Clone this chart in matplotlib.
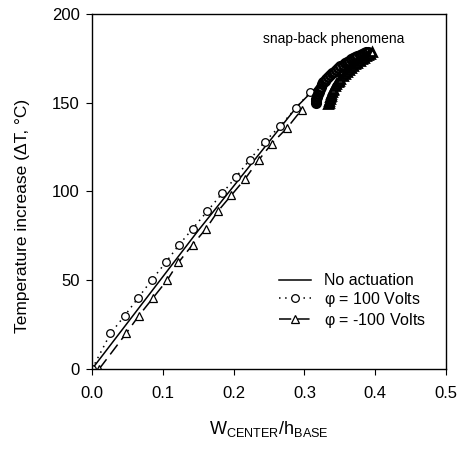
import matplotlib.pyplot as plt

plt.rcParams['font.family'] = ['Liberation Sans', 'DejaVu Sans']

# no actuation (solid line, no markers)
x_none = [0.0, 0.05, 0.10, 0.15, 0.20, 0.25, 0.29, 0.31, 0.325, 0.34, 0.36, 0.38, 0.393]
t_none = [0, 26, 52, 78, 103, 128, 148, 156, 162, 167, 172.5, 176.5, 178.5]

# phi = 100 V (circles, dotted)
x_pos = [0.0, 0.026, 0.046, 0.065, 0.084, 0.104, 0.123, 0.142, 0.163, 0.184,
         0.203, 0.223, 0.244, 0.266, 0.288, 0.308]
t_pos = [0, 20, 30, 40, 50, 60, 70, 79, 89, 99, 108, 118, 128, 137, 147, 156]
# snap-back branch phi = 100 V
x_pos_sb = [0.316, 0.3165, 0.317, 0.3175, 0.318, 0.319, 0.320, 0.321, 0.322, 0.323,
            0.325, 0.327, 0.329, 0.331, 0.333, 0.336, 0.339, 0.342, 0.345, 0.348,
            0.351, 0.354, 0.357, 0.360, 0.363, 0.366, 0.369, 0.372, 0.375, 0.378,
            0.381, 0.384, 0.387, 0.390]
t_pos_sb = [150, 151, 152, 153, 154, 155, 156, 157, 158, 159,
            160.5, 161.5, 162.5, 163.5, 164.5, 165.5, 166.5, 167.5, 168.5, 169.5,
            170.5, 171.3, 172.1, 172.9, 173.7, 174.4, 175.1, 175.8, 176.4, 177,
            177.5, 178, 178.4, 178.8]

# phi = -100 V (triangles, dashed)
x_neg = [0.010, 0.048, 0.066, 0.086, 0.106, 0.122, 0.142, 0.161, 0.178, 0.197,
         0.216, 0.236, 0.254, 0.276, 0.296]
t_neg = [0, 20, 30, 40, 50, 60, 70, 79, 89, 98, 107, 118, 127, 136, 146]
# snap-back branch phi = -100 V
x_neg_sb = [0.334, 0.3345, 0.335, 0.3355, 0.336, 0.337, 0.338, 0.339, 0.340, 0.341,
            0.343, 0.345, 0.347, 0.349, 0.351, 0.354, 0.357, 0.360, 0.363, 0.366,
            0.369, 0.372, 0.375, 0.378, 0.381, 0.384, 0.387, 0.390, 0.393, 0.396]
t_neg_sb = [149, 150, 151, 152, 153, 154, 155, 156, 157, 158,
            159.5, 160.5, 161.5, 162.5, 163.5, 164.8, 166, 167.2, 168.4, 169.5,
            170.6, 171.6, 172.6, 173.5, 174.4, 175.3, 176.1, 176.9, 177.6, 178.3]

fig = plt.figure(figsize=(4.65, 4.5), dpi=100)
ax = fig.add_axes([0.198, 0.18, 0.761, 0.789])

ax.plot(x_none, t_none, color='black', lw=1.1, label='No actuation')
ax.plot(x_pos, t_pos, color='black', lw=1.1, ls=(0, (1, 3)), marker='o',
        ms=5.5, mfc='white', mec='black', mew=0.9, label=r'$\mathregular{\varphi}$ = 100 Volts')
ax.plot(x_pos_sb, t_pos_sb, color='black', ls='none', marker='o',
        ms=6, mfc='white', mec='black', mew=2.0)
ax.plot(x_neg, t_neg, color='black', lw=1.1, ls=(0, (8, 4)), marker='^',
        ms=5.5, mfc='white', mec='black', mew=0.9, label=r'$\mathregular{\varphi}$ = -100 Volts')
ax.plot(x_neg_sb, t_neg_sb, color='black', ls='none', marker='^',
        ms=6, mfc='white', mec='black', mew=2.0)

ax.set_xlim(0, 0.5)
ax.set_ylim(0, 200)
ax.set_xticks([0.0, 0.1, 0.2, 0.3, 0.4, 0.5])
ax.set_xticklabels(['0.0', '0.1', '0.2', '0.3', '0.4', '0.5'])
ax.set_yticks([0, 50, 100, 150, 200])
ax.tick_params(direction='out', length=4, labelsize=12)
ax.tick_params(axis='x', pad=8)
ax.tick_params(axis='y', pad=5)
for s in ax.spines.values():
    s.set_linewidth(1.0)

ax.set_xlabel(r'$\mathregular{W_{CENTER}/h_{BASE}}$', fontsize=13, labelpad=13)
ax.set_ylabel('Temperature increase (ΔT, °C)', fontsize=12.5)
ax.yaxis.set_label_coords(-0.175, 0.43)

ax.text(0.241, 186, 'snap-back phenomena', fontsize=10, ha='left', va='center')

ax.legend(loc='upper left', bbox_to_anchor=(0.489, 0.31), frameon=False, fontsize=11.5,
          handlelength=2.0, handletextpad=0.8, labelspacing=0.1)

fig.savefig('out.png', dpi=100)
